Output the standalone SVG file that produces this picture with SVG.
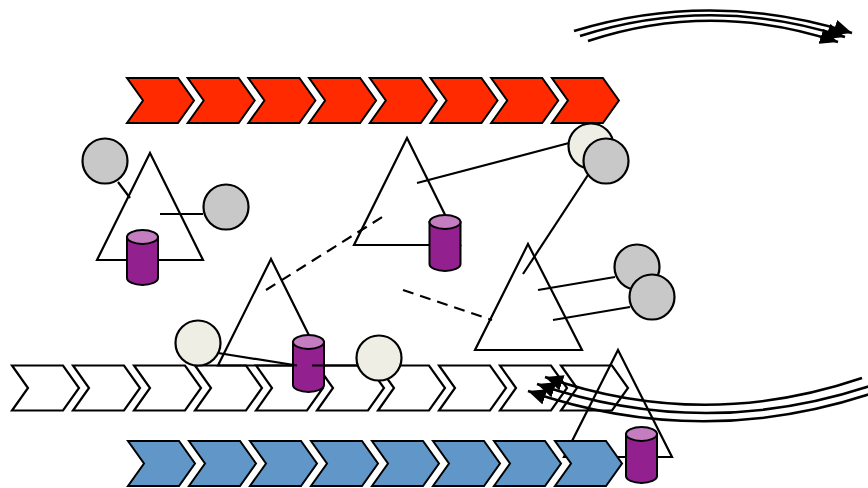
<svg xmlns="http://www.w3.org/2000/svg" width="868" height="488" viewBox="0 0 868 488">
<style>
.red{fill:#ff2a00;stroke:#000;stroke-width:2}
.blue{fill:#6096c8;stroke:#000;stroke-width:2}
.white{fill:none;stroke:#000;stroke-width:2.2}
.tri{fill:none;stroke:#000;stroke-width:2.2}
.grey{fill:#c8c8c8;stroke:#000;stroke-width:2.2}
.pale{fill:#eeeee4;stroke:#000;stroke-width:2.2}
.cylb{fill:#93208f;stroke:#000;stroke-width:2}
.cylt{fill:#c47dc0;stroke:#000;stroke-width:2}
.ln{stroke:#000;stroke-width:2.2;fill:none}
.dash{stroke:#000;stroke-width:2.2;fill:none;stroke-dasharray:11,7}
.arc{stroke:#000;stroke-width:2.5;fill:none;marker-end:url(#ah)}
</style>
<defs>
<path id="chev" d="M0,0 H51 L67,22.5 L51,45 H0 L16,22.5 Z"/>
<marker id="ah" markerUnits="userSpaceOnUse" markerWidth="20" markerHeight="16" refX="18" refY="8" orient="auto">
<path d="M0,0 L18,8 L0,16 Z" fill="#000"/>
</marker>
</defs>
<g id="red-row">
<use href="#chev" class="red" x="127" y="78"/>
<use href="#chev" class="red" x="187.7" y="78"/>
<use href="#chev" class="red" x="248.4" y="78"/>
<use href="#chev" class="red" x="309.1" y="78"/>
<use href="#chev" class="red" x="369.8" y="78"/>
<use href="#chev" class="red" x="430.5" y="78"/>
<use href="#chev" class="red" x="491.2" y="78"/>
<use href="#chev" class="red" x="551.9" y="78"/>
</g>
<g id="white-row">
<use href="#chev" class="white" x="12" y="365.5"/>
<use href="#chev" class="white" x="73" y="365.5"/>
<use href="#chev" class="white" x="134" y="365.5"/>
<use href="#chev" class="white" x="195" y="365.5"/>
<use href="#chev" class="white" x="256" y="365.5"/>
<use href="#chev" class="white" x="317" y="365.5"/>
<use href="#chev" class="white" x="378" y="365.5"/>
<use href="#chev" class="white" x="439" y="365.5"/>
<use href="#chev" class="white" x="500" y="365.5"/>
<use href="#chev" class="white" x="561" y="365.5"/>
</g>
<g id="tri1"><path class="tri" d="M150,153 L203,260 L97,260 Z"/></g>
<g id="tri2"><path class="tri" d="M407,138 L460,245 L354,245 Z"/></g>
<g id="tri3"><path class="tri" d="M528,244 L582,350 L475,350 Z"/></g>
<g id="tri4"><path class="tri" d="M271,259 L324,365.5 L218,365.5 Z"/></g>
<g id="tri5"><path class="tri" d="M618,350 L672,457 L564,457 Z"/></g>
<g id="blue-row">
<use href="#chev" class="blue" x="128" y="441"/>
<use href="#chev" class="blue" x="189" y="441"/>
<use href="#chev" class="blue" x="250" y="441"/>
<use href="#chev" class="blue" x="311" y="441"/>
<use href="#chev" class="blue" x="372" y="441"/>
<use href="#chev" class="blue" x="433" y="441"/>
<use href="#chev" class="blue" x="494" y="441"/>
<use href="#chev" class="blue" x="555" y="441"/>
</g>
<g id="cyl1"><path class="cylb" d="M127,237 V278 A15.5,7 0 0 0 158,278 V237 Z"/><ellipse class="cylt" cx="142.5" cy="237" rx="15.5" ry="7"/></g>
<g id="cyl2"><path class="cylb" d="M429.5,222 V264 A15.5,7 0 0 0 460.5,264 V222 Z"/><ellipse class="cylt" cx="445" cy="222" rx="15.5" ry="7"/></g>
<g id="cyl3"><path class="cylb" d="M293,342 V385 A15.5,7 0 0 0 324,385 V342 Z"/><ellipse class="cylt" cx="308.5" cy="342" rx="15.5" ry="7"/></g>
<g id="cyl4"><path class="cylb" d="M626,434 V476 A15.5,7 0 0 0 657,476 V434 Z"/><ellipse class="cylt" cx="641.5" cy="434" rx="15.5" ry="7"/></g>
<g id="connectors">
<line class="ln" x1="118" y1="182" x2="130" y2="198"/>
<line class="ln" x1="160" y1="214" x2="203" y2="214"/>
<line class="ln" x1="417" y1="183" x2="569" y2="143"/>
<line class="ln" x1="523" y1="274" x2="588" y2="175"/>
<line class="ln" x1="538" y1="290" x2="615" y2="277"/>
<line class="ln" x1="553" y1="320" x2="630" y2="307"/>
<line class="dash" x1="266" y1="290" x2="387" y2="214"/>
<line class="dash" x1="403" y1="290" x2="492" y2="320"/>
<line class="ln" x1="218" y1="353" x2="297" y2="365.5"/>
<line class="ln" x1="312" y1="365.5" x2="357" y2="365.5"/>
<path class="arc" d="M574,31 Q712,-11 852,33"/>
<path class="arc" d="M580,36 Q712,-6 845,37"/>
<path class="arc" d="M588,41 Q712,0 838,42"/>
<path class="arc" d="M862,378 Q703,432 545,377"/>
<path class="arc" d="M870,386 Q703,441 537,384"/>
<path class="arc" d="M870,394 Q699,450 528,391"/>
</g>
<g id="c1"><circle class="grey" cx="105" cy="161" r="22.5"/></g>
<g id="c2"><circle class="grey" cx="226" cy="207" r="22.5"/></g>
<g id="c3"><circle class="pale" cx="591" cy="146" r="22.5"/></g>
<g id="c4"><circle class="grey" cx="606" cy="161" r="22.5"/></g>
<g id="c5"><circle class="grey" cx="637" cy="267" r="22.5"/></g>
<g id="c6"><circle class="grey" cx="652" cy="297" r="22.5"/></g>
<g id="c7"><circle class="pale" cx="198" cy="343" r="22.5"/></g>
<g id="c8"><circle class="pale" cx="379" cy="358" r="22.5"/></g>
</svg>
